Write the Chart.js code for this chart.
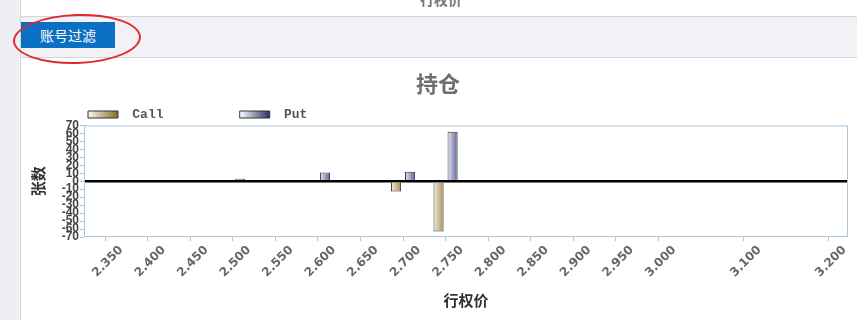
<!DOCTYPE html>
<html>
<head>
<meta charset="utf-8">
<script src="https://cdn.jsdelivr.net/npm/chart.js@4.4.1/dist/chart.umd.min.js"></script>
<style>
  html, body { margin: 0; padding: 0; width: 857px; height: 320px; overflow: hidden; background: #fff; font-family: "Noto Sans CJK SC", sans-serif; }
  #side { position: absolute; left: 0; top: 0; width: 20px; height: 320px; background: #eeeef3; border-right: 1px solid #d6d6de; }
  #cut { position: absolute; left: 420px; top: -11px; font-size: 14px; font-weight: bold; color: #777; }
  #band { position: absolute; left: 21px; top: 16px; width: 836px; height: 40px; background: #f2f2f6; border-top: 1px solid #d4d4da; border-bottom: 1px solid #d4d4da; }
  #btn { position: absolute; left: 21px; top: 22px; width: 94px; height: 26px; background: #0b6fc4; color: #fff; font-size: 14px; line-height: 26px; text-indent: 19px; }
  #ring { position: absolute; left: 13px; top: 14px; width: 124px; height: 46px; border: 2.5px solid #e02a2a; border-radius: 50%; transform: rotate(-2deg); }
  #wrap { position: absolute; left: 22px; top: 58px; width: 835px; height: 262px; }
</style>
</head>
<body>
<div id="side"></div>
<div id="cut">行权价</div>
<div id="band"></div>
<div id="btn">账号过滤</div>
<div id="ring"></div>
<div id="wrap"><canvas id="chart" width="835" height="262"></canvas></div>
<script>
// strike prices shown on the x axis
const STRIKES = [2.35, 2.40, 2.45, 2.50, 2.55, 2.60, 2.65, 2.70, 2.75, 2.80, 2.85, 2.90, 2.95, 3.00, 3.10, 3.20];
const Y_TICKS = [-70, -60, -50, -40, -30, -20, -10, 0, 10, 20, 30, 40, 50, 60, 70];

// positions (张数) per strike
const CALL_X = [2.70, 2.75];
const CALL_Y = [-13, -63];
const PUT_X = [2.50, 2.60, 2.70, 2.75];
const PUT_Y = [3, 11, 12, 62];

const SERIES = ['Call', 'Put'];
const LEGEND_TEXT = [' Call         ', ' Put'];
const BAR_SHADES = [['#f4eedd', '#a88e58'], ['#e6e6f2', '#62629a']];
const KEY_SHADES = [['#faf6ee', '#8a6a2a'], ['#ffffff', '#2c2e62']];

const legendFont = { family: 'Liberation Mono', weight: 'bold', size: 13 };

// gradient fill on each bar, left light -> right dark
const barShade = {
    id: 'barShade',
    beforeDatasetsDraw(chart) {
        const ctx = chart.ctx;
        chart.data.datasets.forEach((ds, i) => {
            chart.getDatasetMeta(i).data.forEach(el => {
                const p = el.getProps(['x', 'width'], true);
                const g = ctx.createLinearGradient(p.x - p.width / 2, 0, p.x + p.width / 2, 0);
                g.addColorStop(0, BAR_SHADES[i][0]);
                g.addColorStop(1, BAR_SHADES[i][1]);
                el.options.backgroundColor = g;
            });
        });
    }
};

// light blue frame around the plot
const plotFrame = {
    id: 'plotFrame',
    beforeDatasetsDraw(chart) {
        const a = chart.chartArea, ctx = chart.ctx;
        ctx.save();
        ctx.strokeStyle = '#a9c6dc';
        ctx.lineWidth = 1;
        ctx.strokeRect(a.left + 0.5, a.top + 0.5, a.right - a.left - 1, a.bottom - a.top - 1);
        ctx.restore();
    }
};

// put the legend row where the original one sits
const legendPlace = {
    id: 'legendPlace',
    afterLayout(chart) {
        const L = chart.legend;
        if (!L) return;
        const w = L.right - L.left;
        L.left = 60;
        L.right = L.left + w;
        L.top = 44;
    }
};

function legendItems(chart) {
    const L = chart.legend;
    const pad = 6, boxW = 30;
    let x = (L && isFinite(L.left)) ? L.left + pad : null;
    const ctx = chart.ctx;
    ctx.save();
    ctx.font = 'bold 13px "Liberation Mono"';
    const items = chart.data.datasets.map((ds, i) => {
        let fill = KEY_SHADES[i][1];
        if (x !== null) {
            const g = ctx.createLinearGradient(x, 0, x + boxW, 0);
            g.addColorStop(0, KEY_SHADES[i][0]);
            g.addColorStop(1, KEY_SHADES[i][1]);
            fill = g;
            x += boxW + 6.5 + ctx.measureText(LEGEND_TEXT[i]).width + pad;
        }
        return {
            text: LEGEND_TEXT[i],
            fillStyle: fill,
            strokeStyle: '#333',
            lineWidth: 1,
            fontColor: '#555',
            hidden: false,
            datasetIndex: i
        };
    });
    ctx.restore();
    return items;
}

new Chart(document.getElementById('chart'), {
    type: 'bar',
    data: {
        datasets: [
            {
                label: SERIES[0],
                data: CALL_X.map((x, i) => ({ x: x, y: CALL_Y[i] })),
                backgroundColor: () => BAR_SHADES[0][1],
                borderColor: '#3a3a3a',
                borderWidth: 1,
                categoryPercentage: 0.66,
                barPercentage: 0.72
            },
            {
                label: SERIES[1],
                data: PUT_X.map((x, i) => ({ x: x, y: PUT_Y[i] })),
                backgroundColor: () => BAR_SHADES[1][1],
                borderColor: '#3a3a3a',
                borderWidth: 1,
                categoryPercentage: 0.66,
                barPercentage: 0.72
            }
        ]
    },
    options: {
        responsive: false,
        devicePixelRatio: 1,
        animation: false,
        layout: { padding: { left: 6, right: 9, top: 0, bottom: 0 } },
        plugins: {
            title: {
                display: true,
                text: '持仓',
                color: '#6e6e6e',
                font: { family: 'Noto Sans CJK SC', size: 22, weight: 'bold' },
                padding: { top: 12, bottom: 0 }
            },
            legend: {
                display: true,
                align: 'start',
                labels: {
                    font: legendFont,
                    color: '#555',
                    boxWidth: 30,
                    boxHeight: 7,
                    padding: 6,
                    generateLabels: legendItems
                }
            },
            tooltip: { enabled: false }
        },
        scales: {
            x: {
                type: 'linear',
                min: 2.325,
                max: 3.223,
                offset: false,
                afterBuildTicks: s => { s.ticks = STRIKES.map(v => ({ value: v })); },
                afterFit: s => { s.height = 83; s.paddingLeft = 0; s.paddingRight = 0; },
                ticks: {
                    autoSkip: false,
                    minRotation: 45,
                    maxRotation: 45,
                    labelOffset: 16,
                    padding: 2,
                    color: '#666',
                    font: { family: 'DejaVu Sans', weight: 'bold', size: 12 },
                    callback: v => Number(v).toFixed(3)
                },
                grid: { offset: false, drawOnChartArea: false, tickLength: 4, tickColor: '#a9c6dc', color: '#a9c6dc' },
                border: { display: false },
                title: {
                    display: true,
                    text: '行权价',
                    color: '#333',
                    font: { family: 'Noto Sans CJK SC', weight: 'bold', size: 15 },
                    padding: { top: 0, bottom: 11 }
                }
            },
            y: {
                min: -70,
                max: 70,
                afterBuildTicks: s => { s.ticks = Y_TICKS.map(v => ({ value: v })); },
                afterFit: s => { s.width = 56; s.paddingTop = 0; s.paddingBottom = 0; },
                ticks: {
                    autoSkip: false,
                    padding: 1,
                    color: '#444',
                    font: { family: 'Liberation Sans', weight: 'bold', size: 12 }
                },
                grid: {
                    color: c => (c.tick && c.tick.value === 0) ? '#000' : 'rgba(0,0,0,0)',
                    lineWidth: c => (c.tick && c.tick.value === 0) ? 2.5 : 1,
                    tickColor: '#a9c6dc',
                    tickWidth: 1,
                    tickLength: 4
                },
                border: { display: false },
                title: {
                    display: true,
                    text: '张数',
                    color: '#333',
                    font: { family: 'Noto Sans CJK SC', weight: 'bold', size: 15 },
                    padding: { top: 1, bottom: 0 }
                }
            }
        }
    },
    plugins: [barShade, plotFrame, legendPlace]
});
</script>
</body>
</html>
